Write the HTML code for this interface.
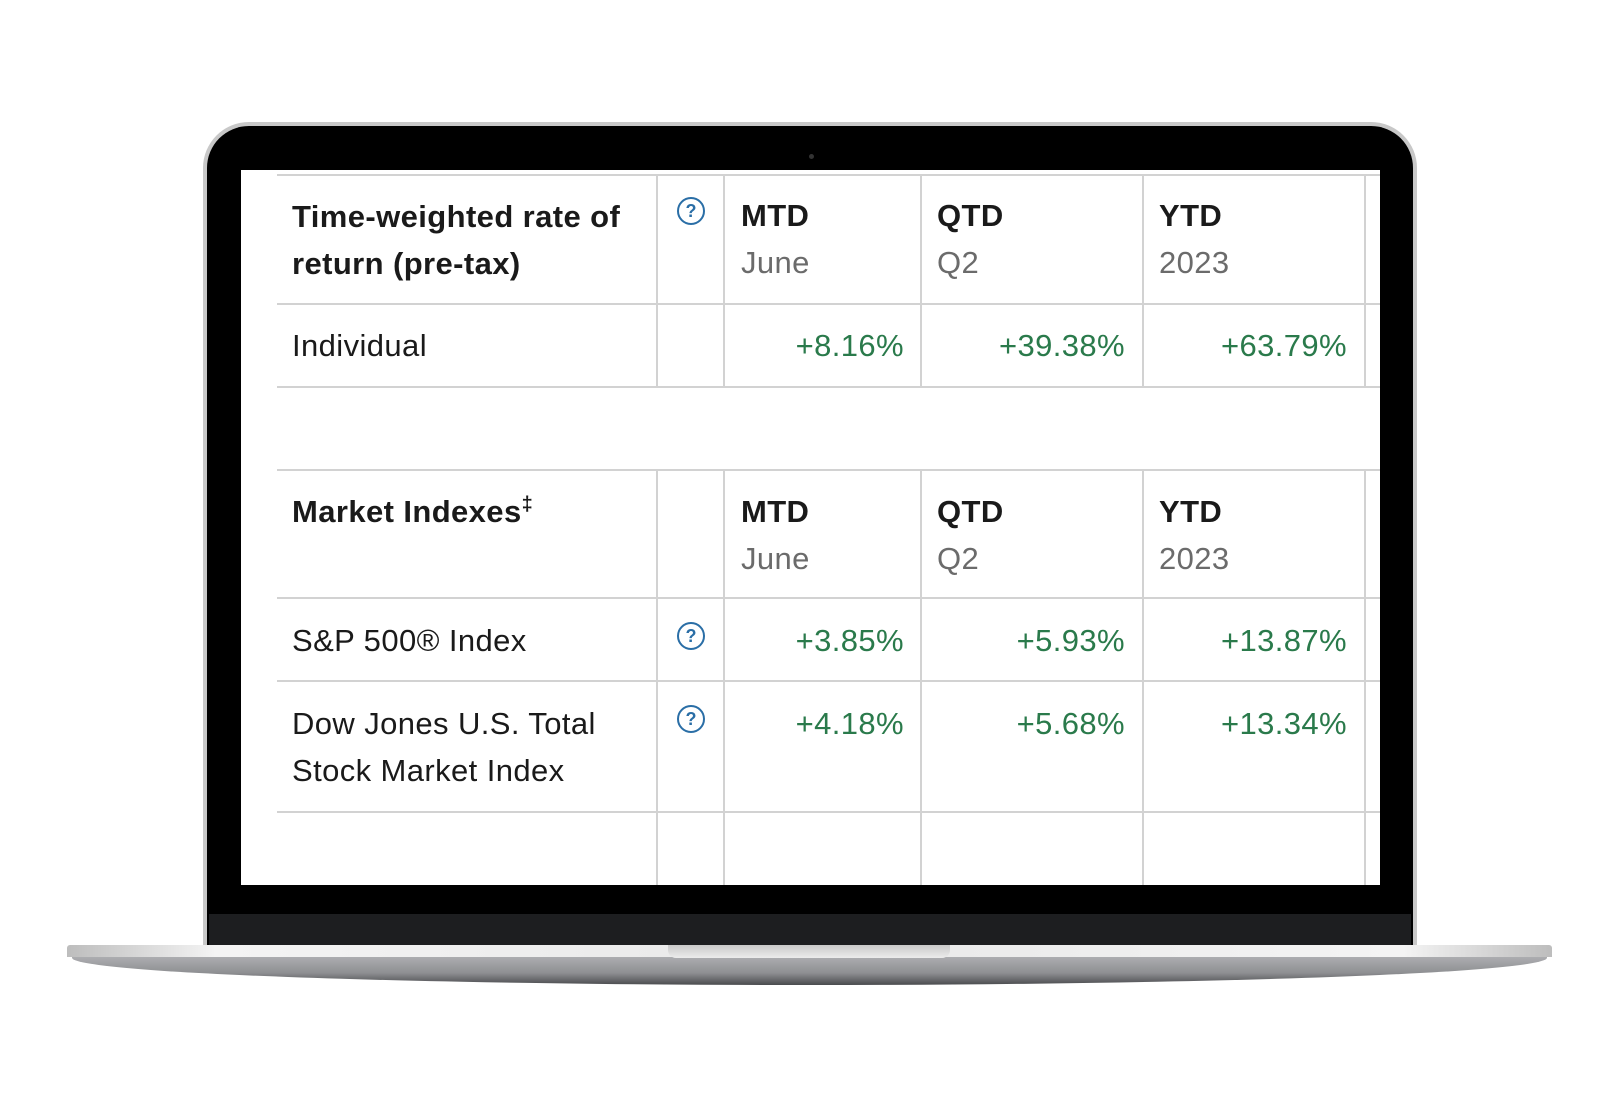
<!DOCTYPE html>
<html><head><meta charset="utf-8"><style>
body{margin:0;width:1620px;height:1112px;background:#fff;position:relative;overflow:hidden;font-family:"Liberation Sans",sans-serif}
.a{position:absolute}
.t{position:absolute;font-size:31px;letter-spacing:0.4px;line-height:47px;color:#1a1a1a;white-space:nowrap}
.b{font-weight:bold}
.g{color:#6b6b6b}
.v{color:#2a7a4b;text-align:right;width:200px}
.h{position:absolute;height:2px;background:#d2d2d2}
.vl{position:absolute;width:2px;background:#d2d2d2}
.q{position:absolute;width:24px;height:24px;border:2px solid #2a6ea6;border-radius:50%;color:#2a6ea6;font-size:18px;font-weight:bold;text-align:center;line-height:24px}
</style></head><body>
<div class="a" style="left:203px;top:122px;width:1214px;height:830px;border-radius:46px 46px 0 0;background:#c8c8c8"></div>
<div class="a" style="left:207px;top:126px;width:1206px;height:820px;border-radius:42px 42px 0 0;background:#000"></div>
<div class="a" style="left:209px;top:914px;width:1202px;height:32px;background:#1d1e20"></div>
<div class="a" style="left:809px;top:154px;width:5px;height:5px;border-radius:50%;background:#333"></div>
<div class="a" style="left:72px;top:955px;width:1475px;height:30px;background:linear-gradient(#b0b1b4,#8e8f92 60%,#4a4b4e);border-radius:0 0 55% 55%/0 0 100% 100%"></div>
<div class="a" style="left:67px;top:945px;width:1485px;height:12px;background:linear-gradient(90deg,#bdbdbd,#f4f4f4 10%,#e8e8e8 50%,#f4f4f4 90%,#bdbdbd);border-radius:3px 3px 0 0"></div>
<div class="a" style="left:668px;top:945px;width:282px;height:13px;background:linear-gradient(#c9c9c9,#ececec);border-radius:0 0 8px 8px"></div>
<div class="a" style="left:241px;top:170px;width:1139px;height:715px;background:#fff"></div>
<div class="h" style="left:277px;top:174px;width:1103px"></div>
<div class="h" style="left:277px;top:303px;width:1103px"></div>
<div class="h" style="left:277px;top:386px;width:1103px"></div>
<div class="h" style="left:277px;top:469px;width:1103px"></div>
<div class="h" style="left:277px;top:597px;width:1103px"></div>
<div class="h" style="left:277px;top:680px;width:1103px"></div>
<div class="h" style="left:277px;top:811px;width:1103px"></div>
<div class="vl" style="left:656px;top:174px;height:213px"></div>
<div class="vl" style="left:656px;top:469px;height:416px"></div>
<div class="vl" style="left:723px;top:174px;height:213px"></div>
<div class="vl" style="left:723px;top:469px;height:416px"></div>
<div class="vl" style="left:920px;top:174px;height:213px"></div>
<div class="vl" style="left:920px;top:469px;height:416px"></div>
<div class="vl" style="left:1142px;top:174px;height:213px"></div>
<div class="vl" style="left:1142px;top:469px;height:416px"></div>
<div class="vl" style="left:1364px;top:174px;height:213px"></div>
<div class="vl" style="left:1364px;top:469px;height:416px"></div>
<div class="t b" style="left:292px;top:193px">Time-weighted rate of</div>
<div class="t b" style="left:292px;top:240px">return (pre-tax)</div>
<div class="q" style="left:677px;top:197px">?</div>
<div class="t b" style="left:741px;top:192px">MTD</div><div class="t g" style="left:741px;top:239px">June</div>
<div class="t b" style="left:937px;top:192px">QTD</div><div class="t g" style="left:937px;top:239px">Q2</div>
<div class="t b" style="left:1159px;top:192px">YTD</div><div class="t g" style="left:1159px;top:239px">2023</div>
<div class="t" style="left:292px;top:322px">Individual</div>
<div class="t v" style="left:704px;top:322px">+8.16%</div>
<div class="t v" style="left:925px;top:322px">+39.38%</div>
<div class="t v" style="left:1147px;top:322px">+63.79%</div>
<div class="t b" style="left:292px;top:488px">Market Indexes<sup style="font-size:20px;line-height:0">‡</sup></div>
<div class="t b" style="left:741px;top:488px">MTD</div><div class="t g" style="left:741px;top:535px">June</div>
<div class="t b" style="left:937px;top:488px">QTD</div><div class="t g" style="left:937px;top:535px">Q2</div>
<div class="t b" style="left:1159px;top:488px">YTD</div><div class="t g" style="left:1159px;top:535px">2023</div>
<div class="t" style="left:292px;top:617px">S&amp;P 500® Index</div>
<div class="q" style="left:677px;top:622px">?</div>
<div class="t v" style="left:704px;top:617px">+3.85%</div>
<div class="t v" style="left:925px;top:617px">+5.93%</div>
<div class="t v" style="left:1147px;top:617px">+13.87%</div>
<div class="t" style="left:292px;top:700px">Dow Jones U.S. Total</div>
<div class="t" style="left:292px;top:747px">Stock Market Index</div>
<div class="q" style="left:677px;top:705px">?</div>
<div class="t v" style="left:704px;top:700px">+4.18%</div>
<div class="t v" style="left:925px;top:700px">+5.68%</div>
<div class="t v" style="left:1147px;top:700px">+13.34%</div>
</body></html>
